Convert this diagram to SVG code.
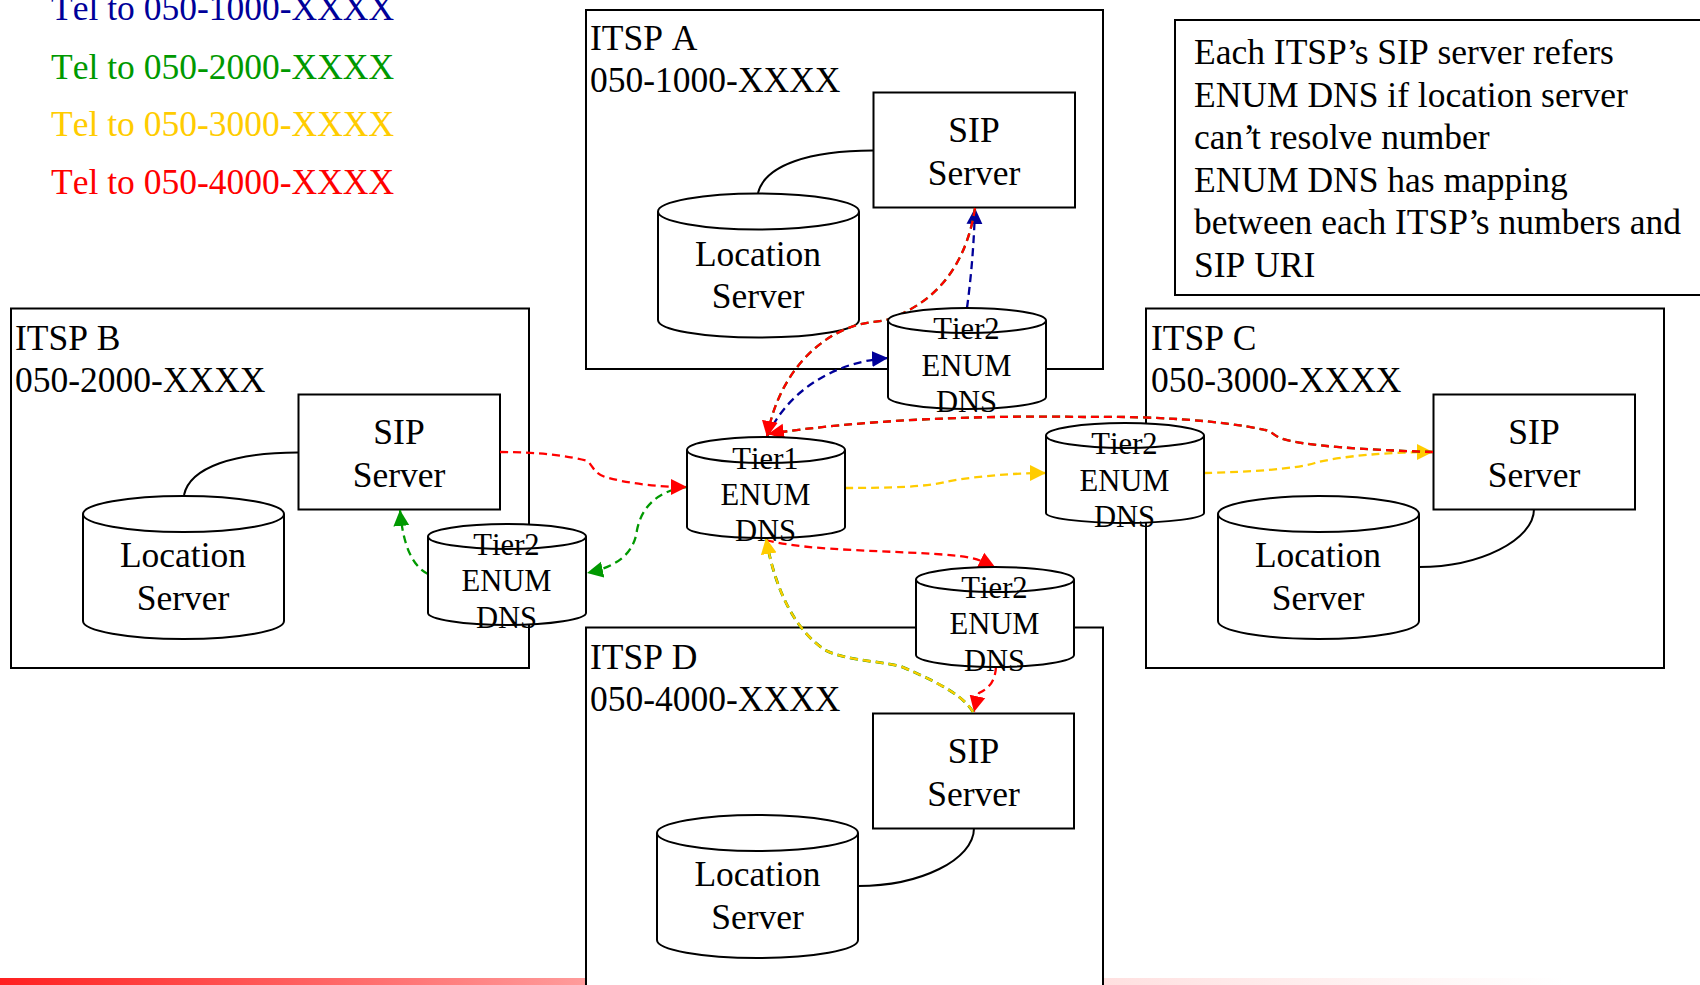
<svg xmlns="http://www.w3.org/2000/svg" width="1700" height="985" viewBox="0 0 1700 985">
<style>
text{font-family:"Liberation Serif","Times New Roman",serif;font-size:35.5px;fill:#000;font-kerning:none}
.m{text-anchor:middle}
.d{text-anchor:middle;font-size:30.6px}
.b{fill:#fff;stroke:#000;stroke-width:2}
.n{fill:none;stroke:#000;stroke-width:2}
.c{fill:none;stroke-width:2.3;stroke-dasharray:8 5}
.lr{stroke:#f00}.lg{stroke:#090}.lb{stroke:#009}.ly{stroke:#fc0}
</style>
<defs>
<linearGradient id="bar" x1="0" x2="1700" y1="0" y2="0" gradientUnits="userSpaceOnUse">
<stop offset="0" stop-color="#ff2020"/><stop offset="0.34" stop-color="#ff9a9a"/><stop offset="0.65" stop-color="#ffe0e0"/><stop offset="0.92" stop-color="#fff"/>
</linearGradient>
<marker id="ar" markerUnits="userSpaceOnUse" markerWidth="18" markerHeight="18" refX="16" refY="8.500" orient="auto"><path d="M0,0.500L16,8.500L0,16.500z" fill="#f00"/></marker>
<marker id="ag" markerUnits="userSpaceOnUse" markerWidth="18" markerHeight="18" refX="16" refY="8.500" orient="auto"><path d="M0,0.500L16,8.500L0,16.500z" fill="#090"/></marker>
<marker id="ab" markerUnits="userSpaceOnUse" markerWidth="18" markerHeight="18" refX="16" refY="8.500" orient="auto"><path d="M0,0.500L16,8.500L0,16.500z" fill="#009"/></marker>
<marker id="ay" markerUnits="userSpaceOnUse" markerWidth="18" markerHeight="18" refX="16" refY="8.500" orient="auto"><path d="M0,0.500L16,8.500L0,16.500z" fill="#fc0"/></marker>
</defs>
<rect x="0" y="978" width="1700" height="7" fill="url(#bar)"/>
<g id="legend">
<text x="51" y="20" style="fill:#009">Tel to 050-1000-XXXX</text>
<text x="51" y="79" style="fill:#090">Tel to 050-2000-XXXX</text>
<text x="51" y="136" style="fill:#fc0">Tel to 050-3000-XXXX</text>
<text x="51" y="194" style="fill:#f00">Tel to 050-4000-XXXX</text>
</g>
<g id="note">
<rect class="b" x="1175" y="20" width="540" height="275"/>
<text x="1194" y="64">Each ITSP’<tspan dx="-4">s SIP server refers</tspan></text>
<text x="1194" y="107">ENUM DNS if location server</text>
<text x="1194" y="149">can’<tspan dx="-4">t resolve number</tspan></text>
<text x="1194" y="192">ENUM DNS has mapping</text>
<text x="1194" y="234">between each ITSP’<tspan dx="-4">s numbers and</tspan></text>
<text x="1194" y="277">SIP URI</text>
</g>
<g id="itsp-a"><rect class="b" x="586" y="10" width="517" height="359"/><text x="590" y="50">ITSP A</text><text x="590" y="92">050-1000-XXXX</text></g>
<g id="itsp-b"><rect class="b" x="11" y="308.500" width="518" height="359.500"/><text x="15" y="350">ITSP B</text><text x="15" y="392">050-2000-XXXX</text></g>
<g id="itsp-c"><rect class="b" x="1146" y="308.500" width="518" height="359.500"/><text x="1151" y="350">ITSP C</text><text x="1151" y="392">050-3000-XXXX</text></g>
<g id="itsp-d"><rect class="b" x="586" y="627.500" width="517" height="370"/><text x="590" y="669">ITSP D</text><text x="590" y="711">050-4000-XXXX</text></g>
<g id="sip-a"><rect class="b" x="873.500" y="92.500" width="201.500" height="115"/><text class="m" x="974" y="142">SIP</text><text class="m" x="974" y="185">Server</text></g>
<g id="sip-b"><rect class="b" x="298.500" y="394.500" width="201.500" height="115"/><text class="m" x="399" y="444">SIP</text><text class="m" x="399" y="487">Server</text></g>
<g id="sip-c"><rect class="b" x="1433.500" y="394.500" width="201.500" height="115"/><text class="m" x="1534" y="444">SIP</text><text class="m" x="1534" y="487">Server</text></g>
<g id="sip-d"><rect class="b" x="873" y="713.500" width="201" height="115"/><text class="m" x="973.500" y="763">SIP</text><text class="m" x="973.500" y="806">Server</text></g>
<g id="loc-a"><path class="b" d="M658,211.500V320C658,330 703,337.500 758.500,337.500S859,330 859,320V211.500"/><ellipse class="b" cx="758.500" cy="211.500" rx="100.500" ry="18"/><text class="m" x="758" y="266">Location</text><text class="m" x="758" y="308">Server</text></g>
<g id="loc-b"><path class="b" d="M83,514V621C83,631 128,639 183.500,639S284,631 284,621V514"/><ellipse class="b" cx="183.500" cy="514" rx="100.500" ry="18"/><text class="m" x="183" y="567">Location</text><text class="m" x="183" y="610">Server</text></g>
<g id="loc-c"><path class="b" d="M1218,514V621C1218,631 1263,639 1318.500,639S1419,631 1419,621V514"/><ellipse class="b" cx="1318.500" cy="514" rx="100.500" ry="18"/><text class="m" x="1318" y="567">Location</text><text class="m" x="1318" y="610">Server</text></g>
<g id="loc-d"><path class="b" d="M657,833V940C657,950 702,958 757.500,958S858,950 858,940V833"/><ellipse class="b" cx="757.500" cy="833" rx="100.500" ry="18"/><text class="m" x="757.500" y="886">Location</text><text class="m" x="757.500" y="929">Server</text></g>
<g id="links">
<path class="n" d="M873,150.500C810,150.500 765,165 758,193"/>
<path class="n" d="M298,452.500C235,452.500 190,467 184,495"/>
<path class="n" d="M1534,509C1534,540 1480,567 1419,567"/>
<path class="n" d="M974,828C974,860 920,886 858,886"/>
</g>
<g id="connectors">
<path class="c lb" d="M967,308C972,270 974,240 975,208" marker-end="url(#ab)"/>
<path class="c lb" d="M767,437C785,395 830,362 888,358" marker-end="url(#ab)"/>
<path class="c lg" d="M975,208C968,255 945,292 907,311C898,316 892,320 873,322C830,326 780,365 767,437"/>
<path class="c lr" d="M975,208C968,255 945,292 907,311C898,316 892,320 873,322C830,326 780,365 767,437" marker-end="url(#ar)"/>
<path class="c ly" d="M845,488C890,488 925,487 945,482C970,477 1010,473 1046,473" marker-end="url(#ay)"/>
<path class="c ly" d="M1204,473C1250,472 1295,469 1315,463C1340,456 1390,452 1433,452" marker-end="url(#ay)"/>
<path class="c lg" d="M1433,452C1370,450 1300,446 1280,438C1272,434 1270,430 1265,430C1220,420 1150,416 1085,417C980,415 860,420 768,434"/>
<path class="c lr" d="M1433,452C1370,450 1300,446 1280,438C1272,434 1270,430 1265,430C1220,420 1150,416 1085,417C980,415 860,420 768,434" marker-end="url(#ar)"/>
<path class="c lg" d="M687,487C660,490 642,505 637,530C634,555 615,567 587,573" marker-end="url(#ag)"/>
<path class="c lr" d="M500,452C540,452 570,456 588,461C595,470 595,473 605,477C630,484 660,487 687,487" marker-end="url(#ar)"/>
<path class="c lg" d="M428,574C412,566 403,545 400,510" marker-end="url(#ag)"/>
<path class="c lr" d="M766,540C810,552 900,550 960,556C975,558 985,562 995,567" marker-end="url(#ar)"/>
<path class="c lr" d="M996,667C995,685 985,690 979,693C977,697 976,703 974,712" marker-end="url(#ar)"/>
<path d="M973,712C965,698 945,685 900,666C870,660 845,660 825,650C795,630 775,590 766,538" fill="none" stroke="#090" stroke-width="2.800" stroke-dasharray="8 5"/>
<path class="c ly" d="M973,712C965,698 945,685 900,666C870,660 845,660 825,650C795,630 775,590 766,538" marker-end="url(#ay)"/>
</g>
<g id="tier1"><path class="b" d="M687,450V527C687,533 722,538 766,538S845,533 845,527V450"/><ellipse class="b" cx="766" cy="450" rx="79" ry="13"/><text class="d" x="765.500" y="469">Tier1</text><text class="d" x="765.500" y="505">ENUM</text><text class="d" x="765.500" y="541">DNS</text></g>
<g id="tier2-a"><path class="b" d="M888,320.500V397C888,403 923,409 967,409S1046,403 1046,397V320.500"/><ellipse class="b" cx="967" cy="320.500" rx="79" ry="12.500"/><text class="d" x="966.500" y="338.500">Tier2</text><text class="d" x="966.500" y="376">ENUM</text><text class="d" x="966.500" y="412">DNS</text></g>
<g id="tier2-b"><path class="b" d="M428,536.500V613C428,619 463,625 507,625S586,619 586,613V536.500"/><ellipse class="b" cx="507" cy="536.500" rx="79" ry="12.500"/><text class="d" x="506.500" y="554.500">Tier2</text><text class="d" x="506.500" y="591">ENUM</text><text class="d" x="506.500" y="628">DNS</text></g>
<g id="tier2-c"><path class="b" d="M1046,435.500V513C1046,518 1081,523 1125,523S1204,518 1204,513V435.500"/><ellipse class="b" cx="1125" cy="435.500" rx="79" ry="12.500"/><text class="d" x="1124.500" y="454">Tier2</text><text class="d" x="1124.500" y="491">ENUM</text><text class="d" x="1124.500" y="527">DNS</text></g>
<g id="tier2-d"><path class="b" d="M916,579.500V655C916,661 951,667 995,667S1074,661 1074,655V579.500"/><ellipse class="b" cx="995" cy="579.500" rx="79" ry="12.500"/><text class="d" x="994.500" y="598">Tier2</text><text class="d" x="994.500" y="634">ENUM</text><text class="d" x="994.500" y="671">DNS</text></g>
</svg>
